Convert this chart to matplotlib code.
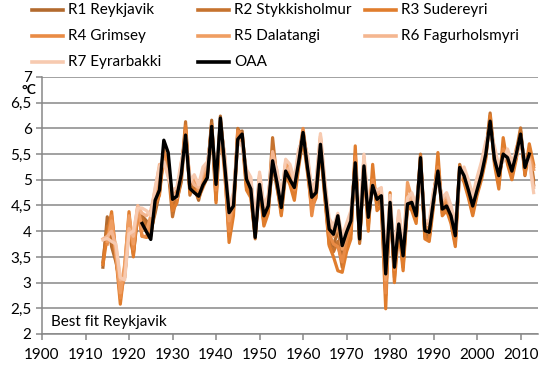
import matplotlib.pyplot as plt
from matplotlib.lines import Line2D
from matplotlib.ticker import FuncFormatter

# ======================== DATA ======================================

years = list(range(1914, 2014))          # station years 1914-2013
oaa_years = list(range(1923, 2013))      # OAA years 1923-2012

r1 = [3.30, 4.28, 3.70, 3.40, 2.95, 3.15, 4.00, 3.55, 4.30,
      4.30, 4.20, 4.00, 4.35, 4.75, 5.55, 5.30, 4.50, 4.60, 4.95,
      5.95, 4.80, 4.85, 4.60, 4.95, 5.10, 6.16, 4.60, 6.24, 5.30,
      4.10, 4.40, 5.90, 5.95, 4.90, 4.75, 3.95, 4.95, 4.20, 4.40,
      5.30, 4.85, 4.40, 5.20, 4.95, 4.75, 5.30, 5.85, 5.20, 4.55,
      4.70, 5.65, 4.70, 3.85, 3.70, 4.05, 3.50, 3.85, 4.05, 5.40,
      3.80, 5.30, 4.20, 4.95, 4.55, 4.60, 2.90, 4.50, 3.20, 4.10,
      3.40, 4.45, 4.50, 4.25, 5.40, 3.95, 3.90, 4.55, 5.20, 4.40,
      4.45, 4.25, 3.85, 5.20, 5.05, 4.75, 4.40, 4.75, 5.05, 5.45,
      6.20, 5.35, 5.00, 5.55, 5.40, 5.10, 5.45, 5.95, 5.15, 5.55,
      4.90]
r2 = [3.40, 4.10, 3.85, 3.45, 2.85, 3.10, 4.10, 3.60, 4.35,
      4.25, 4.10, 3.95, 4.45, 4.80, 5.45, 5.20, 4.28, 4.70, 5.10,
      6.13, 4.70, 4.95, 4.70, 5.05, 5.15, 6.10, 4.70, 6.15, 5.40,
      3.90, 4.45, 6.00, 5.85, 4.85, 4.70, 3.85, 5.00, 4.15, 4.50,
      5.82, 5.00, 4.35, 5.25, 5.05, 4.70, 5.40, 5.95, 5.30, 4.60,
      4.80, 5.75, 4.75, 3.75, 3.60, 3.80, 3.30, 3.70, 3.95, 5.50,
      3.76, 5.40, 4.10, 5.10, 4.50, 4.55, 2.75, 4.60, 3.10, 4.20,
      3.30, 4.60, 4.45, 4.20, 5.50, 3.90, 3.85, 4.65, 5.35, 4.35,
      4.55, 4.20, 3.75, 5.30, 5.00, 4.70, 4.35, 4.85, 5.15, 5.55,
      6.30, 5.45, 4.90, 5.65, 5.35, 5.05, 5.55, 6.01, 5.08, 5.60,
      5.00]
r3 = [3.35, 3.90, 4.38, 3.50, 2.58, 3.30, 4.38, 3.50, 4.45,
      3.90, 3.88, 3.90, 4.50, 4.70, 5.50, 5.35, 4.40, 4.55, 5.05,
      6.05, 4.75, 4.80, 4.65, 4.85, 5.05, 6.00, 4.55, 6.10, 5.20,
      3.78, 4.30, 5.85, 5.80, 4.80, 4.65, 3.90, 4.85, 4.10, 4.35,
      5.40, 4.90, 4.30, 5.10, 4.90, 4.60, 5.25, 5.80, 5.15, 4.45,
      4.65, 5.60, 4.65, 3.72, 3.50, 3.23, 3.20, 3.60, 3.85, 5.66,
      3.85, 5.25, 4.00, 5.30, 4.40, 4.50, 2.49, 4.75, 3.00, 4.05,
      3.23, 4.50, 4.40, 4.15, 5.35, 3.85, 3.80, 4.50, 5.53, 4.30,
      4.40, 4.15, 3.70, 5.15, 4.95, 4.65, 4.30, 4.70, 5.00, 5.40,
      6.25, 5.30, 4.82, 5.82, 5.30, 5.00, 5.40, 5.90, 5.10, 5.70,
      5.30]
r4 = [None, 3.75, 4.30, 3.60, 2.70, 3.20, 4.25, 3.65, 4.40,
      3.90, 3.90, 4.10, 4.60, 4.90, 5.60, 5.25, 4.60, 4.80, 5.20,
      5.95, 4.90, 5.00, 4.75, 5.00, 5.20, 6.05, 4.80, 6.05, 5.10,
      4.00, 4.55, 5.95, 5.90, 5.05, 4.85, 4.00, 5.05, 4.35, 4.55,
      5.45, 5.05, 4.50, 5.30, 5.10, 4.80, 5.45, 6.00, 5.35, 4.30,
      4.85, 5.80, 4.85, 3.95, 3.75, 3.70, 3.40, 3.80, 4.10, 5.45,
      3.95, 5.35, 4.25, 5.00, 4.65, 4.70, 2.80, 4.55, 3.25, 4.25,
      3.50, 4.70, 4.60, 4.35, 5.45, 4.05, 4.00, 4.70, 5.25, 4.50,
      4.60, 4.35, 3.90, 5.25, 5.10, 4.85, 4.55, 4.90, 5.20, 5.60,
      6.10, 5.50, 5.05, 5.60, 5.45, 5.20, 5.60, 5.85, 5.25, 5.50,
      5.25]
r5 = [None, 3.80, 4.20, 3.55, 2.80, 3.35, 4.30, 3.75, 4.48,
      4.05, 4.00, 4.30, 4.75, 5.00, 5.40, 5.10, 4.70, 4.75, 5.30,
      5.85, 5.00, 5.05, 4.80, 5.10, 5.25, 5.95, 4.95, 6.00, 5.35,
      4.20, 4.60, 5.80, 5.75, 5.10, 4.95, 4.05, 5.10, 4.40, 4.60,
      5.50, 5.10, 4.55, 5.35, 5.20, 4.90, 5.50, 5.90, 5.40, 4.70,
      4.90, 5.85, 4.90, 4.10, 3.90, 4.10, 3.65, 3.95, 4.25, 5.30,
      4.00, 5.45, 4.35, 4.90, 4.70, 4.75, 3.05, 4.45, 3.35, 4.30,
      3.60, 4.95, 4.65, 4.40, 5.30, 4.10, 4.05, 4.75, 5.15, 4.55,
      4.65, 4.40, 4.00, 5.10, 5.15, 4.90, 4.60, 4.95, 5.25, 5.65,
      6.05, 5.55, 5.15, 5.45, 5.50, 5.25, 5.50, 5.80, 5.30, 5.45,
      5.20]
r6 = [3.85, 3.90, 4.00, 3.70, 3.05, 3.10, 4.05, 3.90, 4.50,
      4.35, 4.30, 4.40, 4.80, 5.30, 5.30, 5.15, 4.75, 4.65, 5.25,
      5.80, 5.05, 4.90, 4.85, 5.15, 5.30, 5.90, 5.00, 6.10, 5.45,
      4.35, 4.70, 5.70, 5.70, 5.15, 5.00, 4.10, 4.90, 4.45, 4.65,
      5.55, 5.15, 4.60, 5.15, 5.25, 4.95, 5.55, 5.85, 5.45, 4.75,
      4.95, 5.70, 4.95, 4.15, 4.00, 4.20, 3.80, 4.05, 4.30, 5.25,
      4.10, 5.20, 4.40, 4.85, 4.75, 4.80, 3.25, 4.65, 3.45, 4.35,
      3.70, 4.55, 4.70, 4.45, 5.25, 4.15, 4.15, 4.60, 5.10, 4.60,
      4.70, 4.45, 4.10, 5.05, 5.20, 4.95, 4.65, 5.00, 5.30, 5.70,
      6.00, 5.60, 5.20, 5.40, 5.55, 5.30, 5.45, 5.85, 5.35, 5.40,
      4.85]
r7 = [3.83, 3.86, 3.80, 3.75, 3.10, 3.05, 3.95, 4.00, 4.45,
      4.45, 4.40, 4.30, 4.85, 5.25, 5.35, 5.05, 4.80, 4.85, 5.35,
      5.70, 4.95, 5.10, 4.90, 5.25, 5.35, 5.85, 5.10, 5.95, 5.50,
      4.45, 4.75, 5.75, 5.65, 5.20, 5.05, 4.15, 5.15, 4.50, 4.70,
      5.35, 5.20, 4.65, 5.40, 5.30, 5.00, 5.60, 5.75, 5.50, 4.80,
      5.00, 5.90, 5.00, 4.25, 4.10, 4.35, 3.90, 4.15, 4.40, 5.20,
      4.15, 5.50, 4.50, 4.80, 4.80, 4.85, 3.40, 4.70, 3.55, 4.40,
      3.75, 4.65, 4.75, 4.50, 5.20, 4.20, 4.20, 4.80, 5.05, 4.65,
      4.75, 4.50, 4.15, 5.00, 5.25, 5.00, 4.70, 5.05, 5.35, 5.75,
      5.95, 5.65, 5.25, 5.35, 5.60, 5.35, 5.55, 5.75, 5.40, 5.35,
      4.75]
oaa = [4.15, 3.99, 3.84, 4.60, 4.80, 5.77, 5.53, 4.62, 4.68, 5.10,
       5.87, 4.83, 4.75, 4.68, 4.90, 5.04, 6.04, 4.91, 6.20, 5.27,
       4.36, 4.49, 5.79, 5.89, 5.01, 4.82, 3.88, 4.91, 4.30, 4.49,
       5.37, 4.95, 4.46, 5.17, 5.00, 4.85, 5.35, 5.92, 5.25, 4.66,
       4.75, 5.69, 4.80, 4.04, 3.94, 4.30, 3.72, 3.98, 4.20, 5.33,
       3.85, 5.27, 4.27, 4.89, 4.62, 4.69, 3.17, 4.56, 3.30, 4.14,
       3.52, 4.53, 4.56, 4.30, 5.43, 4.01, 3.98, 4.60, 5.17, 4.43,
       4.49, 4.30, 3.91, 5.24, 5.08, 4.80, 4.49, 4.80, 5.10, 5.50,
       6.14, 5.40, 5.08, 5.50, 5.43, 5.17, 5.50, 5.89, 5.24, 5.50]

names = ["R1 Reykjavik", "R2 Stykkisholmur", "R3 Sudereyri", "R4 Grimsey",
         "R5 Dalatangi", "R6 Fagurholsmyri", "R7 Eyrarbakki", "OAA"]
colors = ["#b36a2e", "#c6732f", "#e07d2d", "#e98b45", "#ef9e62",
          "#f4b690", "#f7cab0", "#000000"]
stations = [r1, r2, r3, r4, r5, r6, r7]

# ======================== PLOT ======================================

plt.rcParams['font.family'] = ['Lato', 'DejaVu Sans']

fig = plt.figure(figsize=(5.54, 3.68), dpi=100)
ax = fig.add_axes([0.0758, 0.0924, 0.8953, 0.6984])

for vals, c in zip(stations, colors[:7]):
    y = [float('nan') if v is None else v for v in vals]
    ax.plot(years, y, color=c, lw=2.3, solid_joinstyle='round')
ax.plot(oaa_years, oaa, color='black', lw=2.4, solid_joinstyle='round')

ax.set_xlim(1900, 2014)
ax.set_ylim(2, 7)
ax.set_xticks(range(1900, 2011, 10))
ax.set_yticks([2 + 0.5 * i for i in range(11)])
ax.yaxis.set_major_formatter(FuncFormatter(lambda v, p: f"{v:g}".replace('.', ',')))
ax.grid(axis='y', color='#878787', lw=1.1)
ax.set_axisbelow(True)
for s in ['top', 'right']:
    ax.spines[s].set_visible(False)
for s in ['left', 'bottom']:
    ax.spines[s].set_color('#878787')
    ax.spines[s].set_linewidth(1.1)
ax.tick_params(axis='both', colors='#878787', labelcolor='black', labelsize=11,
               length=4, width=1.1)
ax.tick_params(axis='x', pad=6)

ax.text(0.018, 0.045, "Best fit Reykjavik", transform=ax.transAxes,
        fontsize=11, va='center', ha='left')
fig.text(29 / 554, 1 - 90 / 368, "°C", fontsize=10, fontweight='bold',
         ha='center', va='center')

# legend, 3 columns filled row by row like the original
col_x = [32, 198, 365]
row_y = [10, 36, 62]
for i, (name, c) in enumerate(zip(names, colors)):
    x0 = col_x[i % 3]
    y0 = row_y[i // 3]
    fig.add_artist(Line2D([x0 / 554, (x0 + 31) / 554], [1 - y0 / 368, 1 - y0 / 368],
                          color=c, lw=2.6, transform=fig.transFigure))
    fig.text((x0 + 36) / 554, 1 - y0 / 368, name, fontsize=11, va='center', ha='left')

fig.savefig("out.png", dpi=100, facecolor='white')
